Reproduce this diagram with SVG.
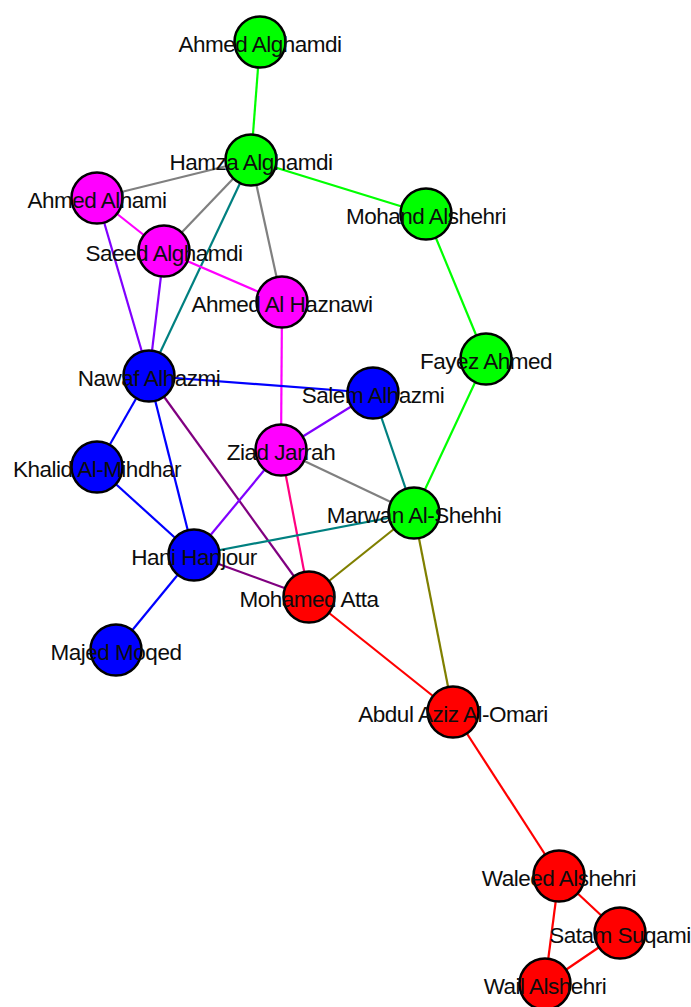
<svg xmlns="http://www.w3.org/2000/svg" width="691" height="1007" viewBox="0 0 691 1007">
<style>
.e{stroke-width:2.2;fill:none}
.n{stroke:#000;stroke-width:2.5}
.g{fill:#00ff00}.m{fill:#ff00ff}.b{fill:#0000ff}.r{fill:#ff0000}
text{font-family:"Liberation Sans",Arial,sans-serif;font-size:22.5px;letter-spacing:-0.5px;fill:#0d0d0d;text-anchor:middle}
</style>
<rect width="691" height="1007" fill="#fff"/>
<g id="edges">
<line class="e" stroke="#00ff00" x1="260" y1="42" x2="251" y2="160"/>
<line class="e" stroke="#808080" x1="251" y1="160" x2="97" y2="198"/>
<line class="e" stroke="#808080" x1="251" y1="160" x2="164" y2="251"/>
<line class="e" stroke="#008080" x1="251" y1="160" x2="149" y2="376"/>
<line class="e" stroke="#808080" x1="251" y1="160" x2="282" y2="302"/>
<line class="e" stroke="#00ff00" x1="251" y1="160" x2="426" y2="214"/>
<line class="e" stroke="#ff00ff" x1="97" y1="198" x2="164" y2="251"/>
<line class="e" stroke="#8000ff" x1="97" y1="198" x2="149" y2="376"/>
<line class="e" stroke="#8000ff" x1="164" y1="251" x2="149" y2="376"/>
<line class="e" stroke="#ff00ff" x1="164" y1="251" x2="282" y2="302"/>
<line class="e" stroke="#ff00ff" x1="282" y1="302" x2="281" y2="450"/>
<line class="e" stroke="#00ff00" x1="426" y1="214" x2="486" y2="359"/>
<line class="e" stroke="#00ff00" x1="486" y1="359" x2="414" y2="513"/>
<line class="e" stroke="#0000ff" x1="149" y1="376" x2="373" y2="393"/>
<line class="e" stroke="#0000ff" x1="149" y1="376" x2="97" y2="467"/>
<line class="e" stroke="#0000ff" x1="149" y1="376" x2="194" y2="555"/>
<line class="e" stroke="#800080" x1="149" y1="376" x2="309" y2="597"/>
<line class="e" stroke="#8000ff" x1="373" y1="393" x2="281" y2="450"/>
<line class="e" stroke="#008080" x1="373" y1="393" x2="414" y2="513"/>
<line class="e" stroke="#808080" x1="281" y1="450" x2="414" y2="513"/>
<line class="e" stroke="#8000ff" x1="281" y1="450" x2="194" y2="555"/>
<line class="e" stroke="#ff0080" x1="281" y1="450" x2="309" y2="597"/>
<line class="e" stroke="#0000ff" x1="97" y1="467" x2="194" y2="555"/>
<line class="e" stroke="#008080" x1="194" y1="555" x2="414" y2="513"/>
<line class="e" stroke="#800080" x1="194" y1="555" x2="309" y2="597"/>
<line class="e" stroke="#0000ff" x1="194" y1="555" x2="116" y2="650"/>
<line class="e" stroke="#808000" x1="414" y1="513" x2="309" y2="597"/>
<line class="e" stroke="#808000" x1="414" y1="513" x2="453" y2="712"/>
<line class="e" stroke="#ff0000" x1="309" y1="597" x2="453" y2="712"/>
<line class="e" stroke="#ff0000" x1="453" y1="712" x2="559" y2="876"/>
<line class="e" stroke="#ff0000" x1="559" y1="876" x2="620" y2="933"/>
<line class="e" stroke="#ff0000" x1="559" y1="876" x2="545" y2="984"/>
<line class="e" stroke="#ff0000" x1="620" y1="933" x2="545" y2="984"/>
</g>
<g id="n-ahmed-alghamdi"><circle class="n g" cx="260" cy="42" r="25.5"/><text x="260" y="51.5">Ahmed Alghamdi</text></g>
<g id="n-hamza-alghamdi"><circle class="n g" cx="251" cy="160" r="25.5"/><text x="251" y="169.5">Hamza Alghamdi</text></g>
<g id="n-ahmed-alhami"><circle class="n m" cx="97" cy="198" r="25.5"/><text x="97" y="207.5">Ahmed Alhami</text></g>
<g id="n-mohand-alshehri"><circle class="n g" cx="426" cy="214" r="25.5"/><text x="426" y="223.5">Mohand Alshehri</text></g>
<g id="n-saeed-alghamdi"><circle class="n m" cx="164" cy="251" r="25.5"/><text x="164" y="260.5">Saeed Alghamdi</text></g>
<g id="n-ahmed-al-haznawi"><circle class="n m" cx="282" cy="302" r="25.5"/><text x="282" y="311.5">Ahmed Al Haznawi</text></g>
<g id="n-fayez-ahmed"><circle class="n g" cx="486" cy="359" r="25.5"/><text x="486" y="368.5">Fayez Ahmed</text></g>
<g id="n-nawaf-alhazmi"><circle class="n b" cx="149" cy="376" r="25.5"/><text x="149" y="385.5">Nawaf Alhazmi</text></g>
<g id="n-salem-alhazmi"><circle class="n b" cx="373" cy="393" r="25.5"/><text x="373" y="402.5">Salem Alhazmi</text></g>
<g id="n-ziad-jarrah"><circle class="n m" cx="281" cy="450" r="25.5"/><text x="281" y="459.5">Ziad Jarrah</text></g>
<g id="n-khalid-al-mihdhar"><circle class="n b" cx="97" cy="467" r="25.5"/><text x="97" y="476.5">Khalid Al-Mihdhar</text></g>
<g id="n-marwan-al-shehhi"><circle class="n g" cx="414" cy="513" r="25.5"/><text x="414" y="522.5">Marwan Al-Shehhi</text></g>
<g id="n-hani-hanjour"><circle class="n b" cx="194" cy="555" r="25.5"/><text x="194" y="564.5">Hani Hanjour</text></g>
<g id="n-mohamed-atta"><circle class="n r" cx="309" cy="597" r="25.5"/><text x="309" y="606.5">Mohamed Atta</text></g>
<g id="n-majed-moqed"><circle class="n b" cx="116" cy="650" r="25.5"/><text x="116" y="659.5">Majed Moqed</text></g>
<g id="n-abdul-aziz-al-omari"><circle class="n r" cx="453" cy="712" r="25.5"/><text x="453" y="721.5">Abdul Aziz Al-Omari</text></g>
<g id="n-waleed-alshehri"><circle class="n r" cx="559" cy="876" r="25.5"/><text x="559" y="885.5">Waleed Alshehri</text></g>
<g id="n-satam-suqami"><circle class="n r" cx="620" cy="933" r="25.5"/><text x="620" y="942.5">Satam Suqami</text></g>
<g id="n-wail-alshehri"><circle class="n r" cx="545" cy="984" r="25.5"/><text x="545" y="993.5">Wail Alshehri</text></g>
</svg>
